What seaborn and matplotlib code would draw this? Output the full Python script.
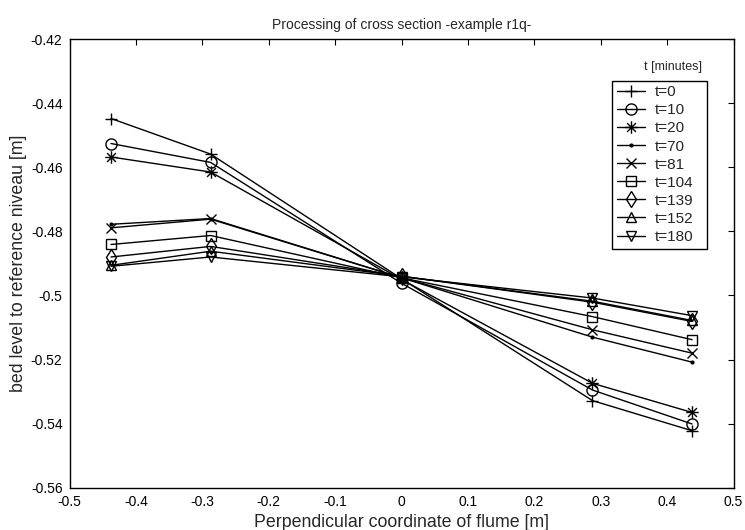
import numpy as np
import pandas as pd
import matplotlib
matplotlib.use("Agg")
import matplotlib.pyplot as plt
from matplotlib.path import Path
from matplotlib.ticker import FuncFormatter, MultipleLocator
import seaborn as sns

# Measurement positions across the flume [m]
positions = [-0.4375, -0.2875, 0.0, 0.2875, 0.4375]

# Bed level per time step [m]
t_minutes = [0, 10, 20, 70, 81, 104, 139, 152, 180]
bed_t0 = [-0.4448, -0.4559, -0.4948, -0.5328, -0.5422]
bed_t10 = [-0.4526, -0.4585, -0.4962, -0.5295, -0.5401]
bed_t20 = [-0.4568, -0.4615, -0.4950, -0.5274, -0.5365]
bed_t70 = [-0.4778, -0.4760, -0.4945, -0.5130, -0.5208]
bed_t81 = [-0.4789, -0.4762, -0.4945, -0.5107, -0.5180]
bed_t104 = [-0.4841, -0.4813, -0.4945, -0.5066, -0.5138]
bed_t139 = [-0.4880, -0.4847, -0.4940, -0.5021, -0.5081]
bed_t152 = [-0.4906, -0.4862, -0.4940, -0.5018, -0.5078]
bed_t180 = [-0.4909, -0.4880, -0.4942, -0.5008, -0.5063]

series = [bed_t0, bed_t10, bed_t20, bed_t70, bed_t81,
          bed_t104, bed_t139, bed_t152, bed_t180]

rows = []
for t, vals in zip(t_minutes, series):
    for x, y in zip(positions, vals):
        rows.append({"t": f"t={t}", "x": x, "y": y})
df = pd.DataFrame(rows)

# asterisk marker: a plus overlaid with a cross
s = 0.7071
asterisk = Path(
    [(-1, 0), (1, 0), (0, -1), (0, 1), (-s, -s), (s, s), (-s, s), (s, -s)],
    [Path.MOVETO, Path.LINETO] * 4,
)

markers = ["+", "o", asterisk, ".", "x", "s", "d", "^", "v"]
sizes = [9, 8, 9, 4, 7, 7, 8, 7.5, 7.5]

sns.set_style("white")
plt.rcParams["font.family"] = ["Liberation Sans", "DejaVu Sans"]
plt.rcParams["font.size"] = 10

fig = plt.figure(figsize=(7.45, 5.30), dpi=100)
ax = fig.add_axes([69.5 / 745, 1 - 487.8 / 530,
                   (733.6 - 69.5) / 745, (487.8 - 39) / 530])

for (t, vals), m, ms in zip(zip(t_minutes, series), markers, sizes):
    sub = df[df["t"] == f"t={t}"]
    face = "k" if m == "." else "none"
    sns.lineplot(data=sub, x="x", y="y", ax=ax, color="k", lw=1.0,
                 marker=m, markersize=ms, markerfacecolor=face,
                 markeredgecolor="k", markeredgewidth=1.0,
                 label=f"t={t}", sort=False, estimator=None)

ax.set_xlim(-0.5, 0.5)
ax.set_ylim(-0.56, -0.42)
ax.xaxis.set_major_locator(MultipleLocator(0.1))
ax.yaxis.set_major_locator(MultipleLocator(0.02))
fmt = FuncFormatter(lambda v, p: f"{round(v, 4):g}" if abs(v) > 1e-9 else "0")
ax.xaxis.set_major_formatter(fmt)
ax.yaxis.set_major_formatter(fmt)
ax.tick_params(direction="in", top=True, right=True, length=4, width=0.8,
               colors="k", labelsize=10, pad=5)
for sp in ax.spines.values():
    sp.set_visible(True)
    sp.set_color("k")
    sp.set_linewidth(1.0)

ax.set_title("Processing of cross section -example r1q-", fontsize=10, pad=7)
ax.set_xlabel("Perpendicular coordinate of flume [m]", fontsize=12.8,
              labelpad=3.5)
ax.set_ylabel("bed level to reference niveau [m]", fontsize=12.8, labelpad=3)

# legend box spans a fixed width; entries stay left-aligned inside it
handles, labels = ax.get_legend_handles_labels()
box_left, box_right, box_top = 612, 707, 80.7
leg = ax.legend(handles, labels, loc="upper left", mode="expand",
                bbox_to_anchor=(box_left / 745, 1 - box_top / 530,
                                (box_right - box_left) / 745, 0.0),
                bbox_transform=fig.transFigure, borderaxespad=0,
                fancybox=False, framealpha=1, edgecolor="k",
                fontsize=11, labelspacing=0.267, handlelength=1.83,
                handletextpad=0.65, borderpad=0.3)
leg.get_frame().set_linewidth(1.0)
fig.text(673 / 745, 1 - 67 / 530, "t [minutes]", ha="center", va="center",
         fontsize=9)

fig.savefig("out.png", dpi=100)
